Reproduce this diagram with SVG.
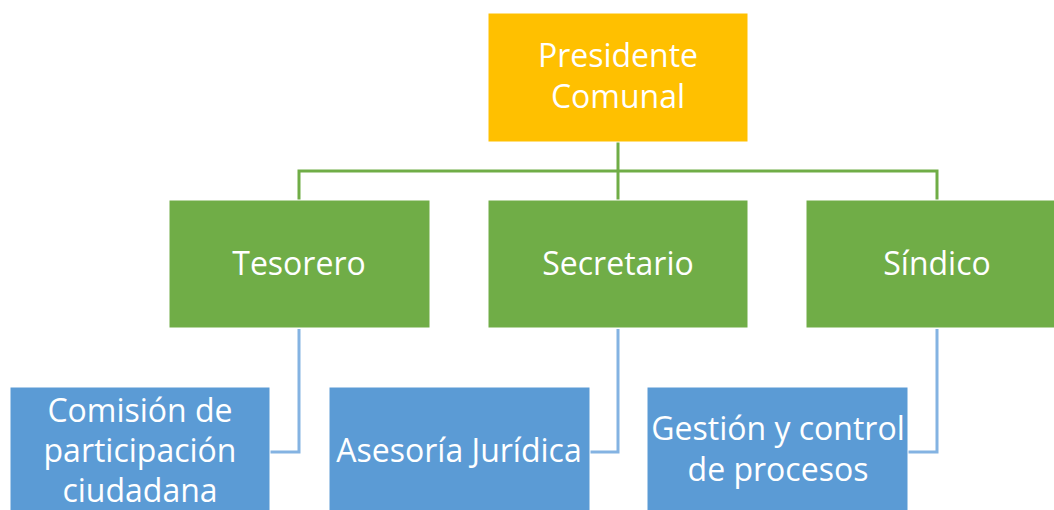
<svg xmlns="http://www.w3.org/2000/svg" width="1054" height="510" viewBox="0 0 1054 510">
<style>
.box{stroke:#ffffff;stroke-width:1}
.y{fill:#FFC000}
.g{fill:#70AD47}
.b{fill:#5B9BD5}
text{font-family:"Open Sans","Noto Sans",sans-serif;font-size:32px;fill:#ffffff;text-anchor:middle}
.cg{fill:none;stroke:#70AD47;stroke-width:3}
.cb{fill:none;stroke:#84B3E2;stroke-width:3}
</style>
<rect width="1054" height="510" fill="#ffffff"/>
<g id="connectors">
<path class="cg" d="M618,142 V200 M299,200 V171 H937 V200"/>
<path class="cb" d="M299,329 V452 H270"/>
<path class="cb" d="M618,329 V452 H590"/>
<path class="cb" d="M937,329 V452 H908"/>
</g>
<g id="presidente">
<rect class="box y" x="488" y="13" width="260" height="129"/>
<text x="618" y="67">Presidente</text>
<text x="618" y="108">Comunal</text>
</g>
<g id="tesorero">
<rect class="box g" x="169" y="200" width="261" height="128"/>
<text x="299" y="275">Tesorero</text>
</g>
<g id="secretario">
<rect class="box g" x="488" y="200" width="260" height="128"/>
<text x="618" y="275">Secretario</text>
</g>
<g id="sindico">
<rect class="box g" x="806" y="200" width="260" height="128"/>
<text x="937" y="275">Síndico</text>
</g>
<g id="comision">
<rect class="box b" x="10" y="387" width="260" height="130"/>
<text x="140" y="422">Comisión de</text>
<text x="140" y="462">participación</text>
<text x="140" y="502">ciudadana</text>
</g>
<g id="asesoria">
<rect class="box b" x="329" y="387" width="261" height="130"/>
<text x="459" y="462">Asesoría Jurídica</text>
</g>
<g id="gestion">
<rect class="box b" x="647" y="387" width="261" height="130"/>
<text x="778" y="440">Gestión y control</text>
<text x="778" y="481">de procesos</text>
</g>
</svg>
